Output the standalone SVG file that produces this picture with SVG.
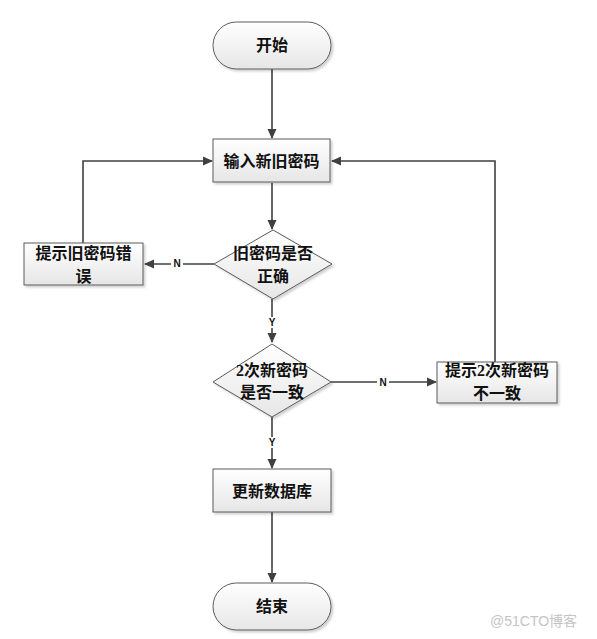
<svg xmlns="http://www.w3.org/2000/svg" width="597" height="639" viewBox="0 0 597 639">
<style>
.shape{fill:url(#g);stroke:#5a5a5a;stroke-width:1;filter:url(#sh)}
.t{font-family:"Liberation Serif","Noto Sans CJK SC",serif;font-size:16px;font-weight:bold;fill:#111;text-anchor:middle}
.line{fill:none;stroke:#404040;stroke-width:1.6}
.lbl{font-family:"Liberation Sans",Arial,sans-serif;font-size:10px;font-weight:bold;fill:#111;text-anchor:middle}
.wm{font-family:"Liberation Sans","Noto Sans CJK SC",sans-serif;font-size:14px;fill:#c4c4c4}
</style>
<defs>
<linearGradient id="g" x1="0" y1="0" x2="0" y2="1">
<stop offset="0" stop-color="#ffffff"/>
<stop offset="1" stop-color="#e6e6e6"/>
</linearGradient>
<filter id="sh" x="-10%" y="-10%" width="125%" height="130%">
<feDropShadow dx="2" dy="2" stdDeviation="1.2" flood-color="#000" flood-opacity="0.18"/>
</filter>
<marker id="arr" markerWidth="10" markerHeight="10" refX="9" refY="5" orient="auto" markerUnits="userSpaceOnUse">
<path d="M0,0.5 L10,5 L0,9.5 Z" fill="#404040"/>
</marker>
</defs>
<rect width="597" height="639" fill="#fff"/>
<g id="connectors">
<line class="line" x1="272" y1="69" x2="272" y2="138" marker-end="url(#arr)"/>
<line class="line" x1="272" y1="183" x2="272" y2="229" marker-end="url(#arr)"/>
<line class="line" x1="214" y1="264" x2="145" y2="264" marker-end="url(#arr)"/>
<polyline class="line" points="83,243 83,161 212,161" marker-end="url(#arr)"/>
<line class="line" x1="272" y1="299" x2="272" y2="342" marker-end="url(#arr)"/>
<line class="line" x1="331" y1="382" x2="436" y2="382" marker-end="url(#arr)"/>
<polyline class="line" points="495,362 495,161 332,161" marker-end="url(#arr)"/>
<line class="line" x1="272" y1="417" x2="272" y2="468" marker-end="url(#arr)"/>
<line class="line" x1="272" y1="512" x2="272" y2="582" marker-end="url(#arr)"/>
<rect x="171" y="258" width="12" height="11" fill="#fff"/>
<text class="lbl" x="177" y="267">N</text>
<rect x="266" y="317" width="12" height="11" fill="#fff"/>
<text class="lbl" x="272" y="326">Y</text>
<rect x="377" y="377" width="12" height="11" fill="#fff"/>
<text class="lbl" x="383" y="386">N</text>
<rect x="266" y="437" width="12" height="11" fill="#fff"/>
<text class="lbl" x="272" y="446">Y</text>
</g>
<g id="start">
<rect class="shape" x="213" y="22" width="118" height="47" rx="23.5" ry="23.5"/>
<text class="t" x="272" y="51">开始</text>
</g>
<g id="input">
<rect class="shape" x="213" y="139" width="117" height="43"/>
<text class="t" x="271.5" y="167">输入新旧密码</text>
</g>
<g id="check-old">
<polygon class="shape" points="273,230 332,264 273,299 214,264"/>
<text class="t" x="273" y="259">旧密码是否</text>
<text class="t" x="273" y="282">正确</text>
</g>
<g id="old-error">
<rect class="shape" x="24" y="243" width="119" height="42"/>
<text class="t" x="83.5" y="259">提示旧密码错</text>
<text class="t" x="83.5" y="282">误</text>
</g>
<g id="check-new">
<polygon class="shape" points="272,344 331,382 272,417 213,382"/>
<text class="t" x="272" y="376">2次新密码</text>
<text class="t" x="272" y="398">是否一致</text>
</g>
<g id="new-mismatch">
<rect class="shape" x="437" y="362" width="120" height="41"/>
<text class="t" x="497" y="376">提示2次新密码</text>
<text class="t" x="497" y="399">不一致</text>
</g>
<g id="update">
<rect class="shape" x="213" y="469" width="118" height="43"/>
<text class="t" x="272" y="497">更新数据库</text>
</g>
<g id="end">
<rect class="shape" x="213" y="583" width="118" height="47" rx="23.5" ry="23.5"/>
<text class="t" x="272" y="612">结束</text>
</g>
<text class="wm" x="490" y="626">@51CTO博客</text>
</svg>
